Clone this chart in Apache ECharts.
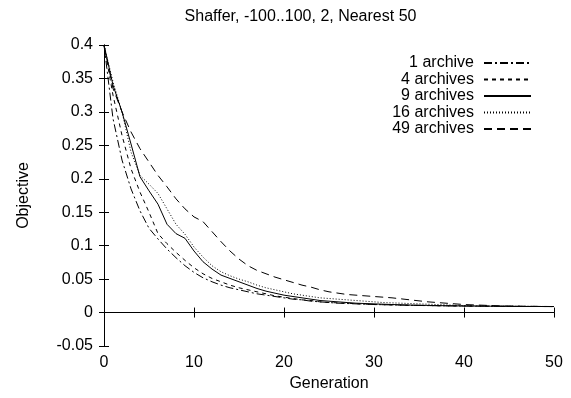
<!DOCTYPE html>
<html>
<head>
<meta charset="utf-8">
<script src="https://cdn.jsdelivr.net/npm/echarts@6/dist/echarts.min.js"></script>
<style>html,body{margin:0;padding:0;background:#fff;}#c{width:571px;height:398px;}</style>
</head>
<body>
<div id="c"></div>
<script>
const titleText = 'Shaffer, -100..100, 2, Nearest 50';
const xName = 'Generation';
const yName = 'Objective';
const seriesNames = ['1 archive', '4 archives', '9 archives', '16 archives', '49 archives'];
const generations = [0,1,2,3,4,5,6,7,8,9,10,11,12,13,14,15,16,17,18,19,20,21,22,23,24,25,26,27,28,29,30,31,32,33,34,35,36,37,38,39,40,41,42,43,44,45,46,47,48,49,50];
const archive1 = [0.400,0.290,0.228,0.185,0.152,0.126,0.110,0.095,0.082,0.070,0.060,0.052,0.046,0.041,0.037,0.034,0.031,0.028,0.026,0.024,0.022,0.020,0.019,0.017,0.016,0.015,0.014,0.0135,0.013,0.0125,0.012,0.0117,0.0114,0.0111,0.0108,0.0106,0.0104,0.0102,0.0100,0.0099,0.0098,0.0097,0.0096,0.0095,0.0094,0.0093,0.0092,0.0091,0.0091,0.0090,0.0090];
const archive4 = [0.400,0.325,0.265,0.215,0.180,0.150,0.118,0.103,0.090,0.078,0.067,0.058,0.051,0.046,0.041,0.037,0.034,0.031,0.028,0.025,0.023,0.021,0.019,0.018,0.016,0.015,0.0145,0.014,0.0132,0.0126,0.012,0.0117,0.0114,0.0111,0.0108,0.0106,0.0104,0.0102,0.0100,0.0099,0.0098,0.0097,0.0096,0.0095,0.0094,0.0093,0.0092,0.0091,0.0091,0.0090,0.0090];
const archive9 = [0.400,0.340,0.300,0.252,0.203,0.182,0.162,0.132,0.118,0.111,0.092,0.076,0.065,0.056,0.051,0.046,0.041,0.036,0.032,0.029,0.026,0.024,0.022,0.020,0.018,0.017,0.016,0.015,0.014,0.0135,0.013,0.0125,0.012,0.0116,0.0112,0.0110,0.0107,0.0104,0.0102,0.0100,0.0098,0.0097,0.0096,0.0095,0.0094,0.0093,0.0092,0.0091,0.0091,0.0090,0.0090];
const archive16 = [0.400,0.345,0.300,0.240,0.205,0.192,0.178,0.155,0.132,0.117,0.098,0.083,0.070,0.061,0.055,0.050,0.046,0.041,0.037,0.034,0.031,0.028,0.026,0.024,0.022,0.021,0.020,0.019,0.018,0.017,0.016,0.015,0.0145,0.014,0.0135,0.013,0.0125,0.012,0.0115,0.011,0.0105,0.0102,0.0100,0.0098,0.0096,0.0095,0.0094,0.0093,0.0092,0.0091,0.0090];
const archive49 = [0.400,0.335,0.300,0.270,0.245,0.225,0.205,0.188,0.170,0.155,0.143,0.136,0.121,0.106,0.092,0.080,0.070,0.063,0.058,0.053,0.049,0.045,0.041,0.038,0.034,0.031,0.029,0.027,0.026,0.025,0.024,0.023,0.022,0.0205,0.019,0.0175,0.016,0.015,0.014,0.013,0.012,0.0115,0.011,0.0105,0.010,0.0097,0.0095,0.0093,0.0092,0.0091,0.0090];
const xTicks = [0, 10, 20, 30, 40, 50];
const yTicks = [-0.05, 0, 0.05, 0.1, 0.15, 0.2, 0.25, 0.3, 0.35, 0.4];

const seriesValues = [archive1, archive4, archive9, archive16, archive49];
const dashes = [[8,3,2,3], [4,4], 'solid', [1,2], [8,5]];
const FONT = 'Liberation Sans, Arial, Helvetica, sans-serif';

const chart = echarts.init(document.getElementById('c'), null, {renderer: 'canvas'});
const axisCommon = {
  type: 'value',
  axisLine: {show: true, lineStyle: {color: '#000', width: 1}},
  axisTick: {show: true, inside: true, length: 5, lineStyle: {color: '#000'}},
  splitLine: {show: false}
};
const fmt = v => String(+(+v).toFixed(2));
chart.setOption({
  animation: false,
  backgroundColor: '#fff',
  textStyle: {fontFamily: FONT},
  title: {
    text: titleText, left: 300.5, top: 9, textAlign: 'center', padding: 0,
    textStyle: {fontFamily: FONT, fontSize: 16, fontWeight: 'normal', color: '#000'}
  },
  grid: {left: 104, top: 45, right: 17, bottom: 52, containLabel: false},
  legend: {
    orient: 'vertical', right: 34, top: 50, align: 'right',
    itemWidth: 47, itemHeight: 10, itemGap: 0.5,
    itemStyle: {opacity: 0},
    textStyle: {fontFamily: FONT, fontSize: 16, color: '#000', padding: [0, 5, 0, 0]},
    data: seriesNames
  },
  xAxis: [
    Object.assign({}, axisCommon, {
      min: xTicks[0], max: xTicks[xTicks.length - 1], interval: 10,
      name: xName, nameLocation: 'middle', nameGap: 27,
      nameTextStyle: {fontFamily: FONT, fontSize: 16, color: '#000'},
      axisLabel: {color: '#000', fontFamily: FONT, fontSize: 16, margin: 9}
    }),
    Object.assign({}, axisCommon, {
      position: 'top', min: xTicks[0], max: xTicks[xTicks.length - 1], interval: 10,
      axisLabel: {show: false}
    })
  ],
  yAxis: [
    Object.assign({}, axisCommon, {
      min: yTicks[0], max: yTicks[yTicks.length - 1], interval: 0.05,
      name: yName, nameLocation: 'middle', nameGap: 72, nameRotate: 90,
      nameTextStyle: {fontFamily: FONT, fontSize: 16, color: '#000'},
      axisLabel: {color: '#000', fontFamily: FONT, fontSize: 16, margin: 11, formatter: fmt}
    }),
    Object.assign({}, axisCommon, {
      position: 'right', min: yTicks[0], max: yTicks[yTicks.length - 1], interval: 0.05,
      axisLabel: {show: false}
    })
  ],
  series: seriesNames.map((name, i) => ({
    name: name,
    type: 'line',
    xAxisIndex: 0, yAxisIndex: 0,
    showSymbol: false, symbol: 'none',
    data: generations.map((g, j) => [g, seriesValues[i][j]]),
    lineStyle: {color: '#000', width: 1, type: dashes[i]},
    itemStyle: {color: '#000'},
    emphasis: {disabled: true}
  }))
});
</script>
</body>
</html>
